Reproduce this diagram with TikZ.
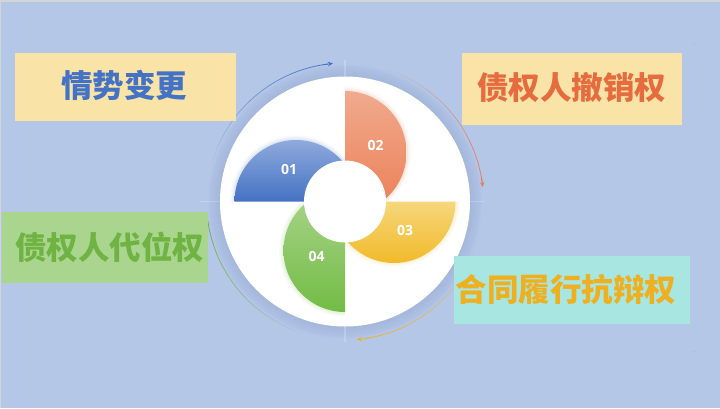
\documentclass[tikz,border=0pt]{standalone}
\usepackage{fontspec}
\newfontfamily\cjk{Noto Sans CJK SC}
\newfontfamily\numfont{Open Sans}
\usetikzlibrary{arrows.meta}
\definecolor{bg}{HTML}{B4C7E7}
\definecolor{haloc}{HTML}{8EA2CC}
\definecolor{blueL}{HTML}{8FAADC}
\definecolor{blueD}{HTML}{4472C4}
\definecolor{orL}{HTML}{F0AA8E}
\definecolor{orD}{HTML}{EC7E54}
\definecolor{yeL}{HTML}{F6D77C}
\definecolor{yeD}{HTML}{F1BA2A}
\definecolor{grL}{HTML}{AAD48C}
\definecolor{grD}{HTML}{72BC45}
\definecolor{boxY}{HTML}{F9E3A6}
\definecolor{boxT}{HTML}{A8E6E1}
\definecolor{boxG}{HTML}{A9D58E}
\definecolor{txB}{HTML}{4472C4}
\definecolor{txO}{HTML}{E66C40}
\definecolor{txY}{HTML}{EEB020}
\definecolor{txG}{HTML}{6FB342}
\definecolor{arcO}{HTML}{E5795A}
\definecolor{arcY}{HTML}{EDB22C}
\definecolor{arcG}{HTML}{70AD47}
\newcommand\myfadearc[4]{%
  \foreach \i in {0,...,35}{%
    \pgfmathsetmacro\aa{#2+(#3-#2)*\i/36}%
    \pgfmathsetmacro\bb{#2+(#3-#2)*(\i+1)/36}%
    \pgfmathsetmacro\op{#4==1 ? (\i+1)/36 : 1-\i/36}%
    \draw[#1, line width=.8pt, opacity=\op] (C) ++(\aa:138.5) arc[start angle=\aa, end angle=\bb, radius=138.5];
  }}
\newcommand\myglow[2]{%
  \draw[#1, opacity=.07, line width=9pt] #2;
  \draw[#1, opacity=.09, line width=6pt] #2;
  \draw[#1, opacity=.12, line width=3pt] #2;}
\tikzset{
  labbox/.style={minimum width=#1, inner sep=0pt, outer sep=0pt},
  bigtxt/.style={font=\cjk\bfseries\fontsize{31.5}{31.5}\selectfont, inner sep=0pt},
  numtxt/.style={font=\numfont\bfseries\fontsize{14}{14}\selectfont, text=white, inner sep=0pt},
  arrtip/.style={-{Stealth[length=5pt,width=4.5pt]}, line width=.8pt}
}
\begin{document}
\begin{tikzpicture}[x=1pt,y=1pt]
\useasboundingbox (0,0) rectangle (720,408);
\fill[bg] (0,0) rectangle (720,408);
\fill[black!17] (0,406) rectangle (720,408);
\fill[black!17] (0,0) rectangle (1.2,408);
\fill[haloc!70] (691.5,364) rectangle (694.5,365);
\fill[haloc!70] (691.5,56) rectangle (694.5,57);
\coordinate (C) at (345,206.5);
% halo
\foreach \k in {1,...,12}{\fill[haloc, opacity=0.032] (C) circle[radius=125+\k];}
% faint cross lines
\draw[white, opacity=.2, line width=1.2pt] (200,206.5) -- (485,206.5);
\draw[white, opacity=.2, line width=1.2pt] (345,348) -- (345,66);
% white disc
\fill[white] (C) circle[radius=125];
% petal 01
\begin{scope}
\clip (200,206.5) rectangle (345,300);
\myglow{blueL}{(234.5,206.5) arc[start angle=180,end angle=0,radius=61.5]}
\shade[top color=blueL, bottom color=blueD] (234.5,206.5) arc[start angle=180,end angle=0,radius=61.5] -- cycle;
\end{scope}
% petal 02
\begin{scope}
\clip (345,206.5) rectangle (420,330);
\myglow{orL}{(345,317) arc[start angle=90,end angle=-90,radius=61.5]}
\shade[top color=orL, bottom color=orD] (345,317) arc[start angle=90,end angle=-90,radius=61.5] -- cycle;
\end{scope}
% petal 03
\begin{scope}
\clip (345,130) rectangle (470,206.5);
\myglow{yeL}{(455.5,206.5) arc[start angle=0,end angle=-180,radius=61.5]}
\shade[top color=yeL, bottom color=yeD] (455.5,206.5) arc[start angle=0,end angle=-180,radius=61.5] -- cycle;
\end{scope}
% petal 04
\begin{scope}
\clip (270,90) rectangle (345,206.5);
\myglow{grL}{(345,96) arc[start angle=270,end angle=90,radius=61.5]}
\shade[top color=grL, bottom color=grD] (345,96) arc[start angle=270,end angle=90,radius=61.5] -- cycle;
\end{scope}
% inner disc
\fill[white] (C) circle[radius=41];
% numbers
\node[numtxt] (n1) at (289,239) {01};
\node[numtxt] (n2) at (375.5,262.5) {02};
\node[numtxt] (n3) at (405,177.5) {03};
\node[numtxt] (n4) at (316.5,152) {04};
% arcs
\myfadearc{blueD}{165}{97}{1}
\draw[blueD, arrtip] (C) ++(99:138.5) arc[start angle=99, end angle=95, radius=138.5];
\myfadearc{arcO}{74}{8}{1}
\draw[arcO, arrtip] (C) ++(10:138.5) arc[start angle=10, end angle=6, radius=138.5];
\myfadearc{arcY}{-15}{-82}{1}
\draw[arcY, arrtip] (C) ++(-80:138.5) arc[start angle=-80, end angle=-85, radius=138.5];
\myfadearc{arcG}{188}{253}{0}
% boxes
\node[labbox=221pt, minimum height=67.7pt, fill=boxY] (b1) at (125.5,320.85) {};
\node[bigtxt, text=txB] (t1) at (124,323) {情势变更};
\node[labbox=220.3pt, minimum height=71.7pt, fill=boxY] (b2) at (571.85,318.85) {};
\node[bigtxt, text=txO] (t2) at (571.5,320) {债权人撤销权};
\node[labbox=235.7pt, minimum height=68pt, fill=boxT] (b3) at (571.85,118) {};
\node[bigtxt, text=txY] (t3) at (566,119) {合同履行抗辩权};
\node[labbox=206.3pt, minimum height=71.3pt, fill=boxG] (b4) at (104.85,160.65) {};
\node[bigtxt, text=txG] (t4) at (110,161) {债权人代位权};
\end{tikzpicture}
\end{document}
